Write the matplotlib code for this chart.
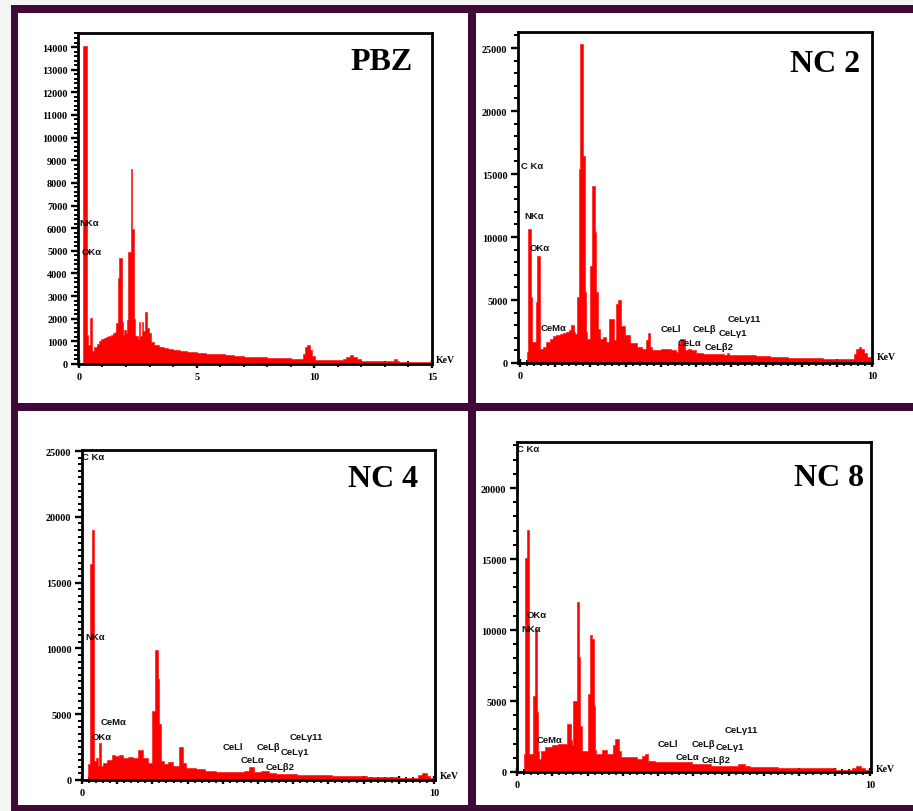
import matplotlib
matplotlib.use('Agg')
import matplotlib.pyplot as plt
from matplotlib.patches import Rectangle
from matplotlib.ticker import MultipleLocator, FixedLocator, FuncFormatter

plt.rcParams['font.family'] = ['Liberation Serif', 'DejaVu Serif']
plt.rcParams['font.weight'] = 'bold'

W, H = 913, 812

# ---------------- data (step spectra: segment start energy [keV], counts) ----------------
pbz_energy = [0.00, 0.17, 0.33, 0.37, 0.47, 0.57, 0.66, 0.75, 0.85, 0.95,
              1.05, 1.15, 1.25, 1.35, 1.45, 1.52, 1.58, 1.64, 1.70, 1.84,
              1.88, 1.93, 2.00, 2.04, 2.10, 2.22, 2.27, 2.33, 2.40, 2.50,
              2.56, 2.60, 2.66, 2.72, 2.79, 2.90, 2.96, 3.05, 3.20, 3.40,
              3.60, 3.80, 4.00, 4.30, 4.60, 5.00, 5.40, 5.80, 6.20, 6.60,
              7.00, 7.50, 8.00, 8.50, 9.00, 9.30, 9.50, 9.60, 9.70, 9.80,
              9.90, 10.05, 10.60, 11.20, 11.35, 11.50, 11.65, 11.80, 12.00, 13.40,
              13.50, 13.60, 15.00]
pbz_counts = [0, 14050, 1300, 850, 2030, 560, 750, 900, 1000, 1100,
              1150, 1200, 1250, 1300, 1350, 1420, 1800, 3800, 4680, 1850,
              1300, 1500, 1350, 1950, 4950, 8600, 5950, 2000, 1250, 1100,
              1850, 1250, 1850, 1450, 2300, 1600, 1350, 950, 850, 750,
              700, 650, 600, 560, 520, 480, 450, 420, 390, 360,
              330, 310, 280, 260, 240, 200, 450, 750, 840, 600,
              350, 180, 190, 210, 300, 400, 330, 200, 120, 200,
              120, 100, 100]

nc2_energy = [0.00, 0.19, 0.23, 0.30, 0.34, 0.45, 0.49, 0.57, 0.64, 0.74,
              0.84, 0.93, 1.03, 1.12, 1.22, 1.31, 1.40, 1.45, 1.54, 1.57,
              1.61, 1.67, 1.71, 1.78, 1.84, 1.87, 1.91, 1.98, 2.04, 2.13,
              2.17, 2.20, 2.26, 2.35, 2.43, 2.54, 2.66, 2.73, 2.78, 2.88,
              2.99, 3.13, 3.32, 3.45, 3.58, 3.63, 3.70, 3.76, 4.00, 4.30,
              4.42, 4.48, 4.55, 4.68, 4.78, 4.87, 5.00, 5.20, 5.50, 5.80,
              5.88, 5.95, 6.30, 6.70, 7.10, 7.60, 8.10, 8.60, 9.00, 9.40,
              9.48, 9.55, 9.62, 9.70, 9.78, 9.86, 10.0]
nc2_counts = [0, 870, 10600, 5200, 1660, 4860, 8500, 1100, 1300, 1640,
              1900, 2140, 2250, 2300, 2350, 2440, 2600, 3000, 2440, 2300,
              5200, 15400, 25300, 16450, 5600, 2440, 1900, 7700, 14070, 10400,
              5600, 2700, 1900, 2100, 1700, 3490, 1800, 4700, 5000, 2960,
              2200, 1600, 1300, 1150, 1800, 2400, 1300, 1050, 1100, 1050,
              900, 1500, 1900, 1000, 1100, 1000, 800, 720, 700, 640,
              800, 620, 600, 560, 500, 430, 400, 350, 340, 320,
              700, 1100, 1260, 1150, 800, 450, 300]

nc4_energy = [0.00, 0.18, 0.23, 0.27, 0.34, 0.39, 0.46, 0.49, 0.55, 0.60,
              0.70, 0.84, 0.95, 1.05, 1.17, 1.30, 1.45, 1.60, 1.74, 1.88,
              2.00, 2.08, 2.17, 2.20, 2.24, 2.34, 2.44, 2.58, 2.75, 2.86,
              2.95, 3.23, 3.50, 3.80, 4.20, 4.60, 4.75, 4.90, 5.10, 5.30,
              5.50, 6.10, 7.10, 8.10, 9.00, 9.55, 9.65, 9.80, 9.90, 10.0]
nc4_counts = [0, 1200, 16400, 19000, 1470, 1700, 1050, 2800, 1050, 1300,
              1500, 1900, 1800, 1900, 1700, 1750, 1650, 2280, 1700, 1300,
              5270, 9880, 7680, 4250, 1470, 1200, 1400, 1100, 2500, 1300,
              900, 800, 700, 620, 580, 700, 960, 600, 710, 550,
              450, 380, 300, 230, 180, 350, 530, 300, 130, 130]

nc8_energy = [0.00, 0.20, 0.24, 0.27, 0.35, 0.46, 0.50, 0.56, 0.60, 0.63,
              0.68, 0.80, 1.00, 1.15, 1.30, 1.42, 1.53, 1.57, 1.60, 1.69,
              1.76, 1.79, 1.83, 1.94, 2.00, 2.06, 2.13, 2.17, 2.20, 2.25,
              2.40, 2.55, 2.72, 2.77, 2.89, 2.95, 3.40, 3.55, 3.62, 3.72,
              3.90, 4.70, 4.95, 5.50, 6.25, 6.45, 6.60, 7.40, 8.80, 9.00,
              9.10, 9.50, 9.60, 9.75, 9.85, 10.03]
nc8_counts = [0, 1270, 15100, 17060, 1270, 5370, 10070, 4220, 1500, 915,
              1500, 1760, 1900, 2000, 1950, 3380, 2220, 1900, 5020, 11970,
              8100, 3260, 1500, 1450, 5490, 9650, 9370, 4670, 1550, 1270,
              1550, 1270, 1900, 2320, 1500, 1040, 900, 1100, 1270, 800,
              700, 720, 550, 450, 560, 420, 350, 280, 250, 120,
              170, 300, 450, 300, 150, 150]

# peak labels
pbz_label_text = ["NKα", "OKα"]
pbz_label_x = [0.02, 0.13]
pbz_label_y = [6230, 4990]

nc2_label_text = ["C Kα", "NKα", "OKα", "CeMα", "CeLl", "CeLα", "CeLβ", "CeLβ2", "CeLγ1", "CeLγ11"]
nc2_label_x = [0.03, 0.11, 0.26, 0.57, 4.00, 4.49, 4.91, 5.23, 5.63, 5.91]
nc2_label_y = [15710, 11670, 9130, 2780, 2700, 1590, 2700, 1270, 2460, 3570]

nc4_label_text = ["C Kα", "NKα", "CeMα", "OKα", "CeLl", "CeLα", "CeLβ", "CeLβ2", "CeLγ1", "CeLγ11"]
nc4_label_x = [0.00, 0.11, 0.54, 0.28, 4.00, 4.52, 4.97, 5.23, 5.65, 5.91]
nc4_label_y = [24620, 10870, 4480, 3340, 2580, 1520, 2580, 1060, 2130, 3270]

nc8_label_text = ["C Kα", "OKα", "NKα", "CeMα", "CeLl", "CeLα", "CeLβ", "CeLβ2", "CeLγ1", "CeLγ11"]
nc8_label_x = [0.00, 0.28, 0.11, 0.57, 3.99, 4.50, 4.96, 5.24, 5.64, 5.89]
nc8_label_y = [22750, 11060, 10140, 2320, 2040, 1060, 2040, 850, 1830, 2960]

titles = ["PBZ", "NC 2", "NC 4", "NC 8"]
unit_label = "KeV"

# ---------------- figure & frame ----------------
fig = plt.figure(figsize=(W / 100, H / 100), dpi=100, facecolor='#f5f5f5')
PURPLE = '#3f0a38'


def frect(x0, y0, x1, y1, color, z=0):
    fig.add_artist(Rectangle((x0 / W, 1 - y1 / H), (x1 - x0) / W, (y1 - y0) / H,
                             transform=fig.transFigure, facecolor=color,
                             edgecolor='none', zorder=z))


frect(11, 6, 913, 812, 'white', z=-2)
frect(11, 6, 913, 14, PURPLE, z=-1)
frect(11, 6, 18, 812, PURPLE, z=-1)
frect(468, 6, 476, 812, PURPLE, z=-1)
frect(11, 404, 913, 412, PURPLE, z=-1)
frect(11, 806, 913, 812, PURPLE, z=-1)


def make_axes(px_box):
    x0, y0, x1, y1 = px_box
    return fig.add_axes([x0 / W, 1 - y1 / H, (x1 - x0) / W, (y1 - y0) / H])


def setup(ax, energy, counts, xlim, ylim, xmaj, xmin, ymaj, ymin, xlab_keep,
          title, title_pos, ltxt, lx, ly, kev_pos):
    assert len(energy) == len(counts)
    ax.fill_between(energy, counts, 0, step='post', color='#ff0000',
                    edgecolor='#ff0000', linewidth=0.4, zorder=2)
    ax.set_xlim(*xlim)
    ax.set_ylim(*ylim)
    for s in ax.spines.values():
        s.set_linewidth(2.0)
        s.set_color('black')
        s.set_zorder(4)
    ax.xaxis.set_major_locator(xmaj)
    ax.xaxis.set_minor_locator(MultipleLocator(xmin))
    ax.xaxis.set_major_formatter(FuncFormatter(
        lambda v, p: ('%g' % v) if any(abs(v - k) < 1e-6 for k in xlab_keep) else ''))
    ax.yaxis.set_major_locator(MultipleLocator(ymaj))
    ax.yaxis.set_minor_locator(MultipleLocator(ymin))
    ax.yaxis.set_major_formatter(FuncFormatter(lambda v, p: '%d' % v))
    ax.tick_params(axis='y', which='major', direction='out', length=5, width=1.7,
                   pad=2.5, labelsize=7.3)
    ax.tick_params(axis='y', which='minor', direction='out', length=3, width=1.4)
    ax.tick_params(axis='x', which='major', direction='inout', length=6, width=1.7,
                   pad=3.0, labelsize=7.3)
    ax.tick_params(axis='x', which='minor', direction='inout', length=4, width=1.3)
    for lab in ax.get_xticklabels() + ax.get_yticklabels():
        lab.set_fontweight('bold')
    ax.text(title_pos[0], title_pos[1], title, transform=ax.transAxes, ha='right',
            va='baseline', fontsize=23, fontweight='bold', family='Liberation Serif',
            zorder=5)
    ax.text(kev_pos[0], kev_pos[1], unit_label, transform=ax.transAxes, ha='left',
            va='center', fontsize=7, fontweight='bold', family='Liberation Serif',
            clip_on=False)
    for t, x, y in zip(ltxt, lx, ly):
        ax.text(x, y, t, ha='left', va='center', fontsize=6.8, fontweight='bold',
                family=['Liberation Sans', 'DejaVu Sans'], color='#111111',
                zorder=3, clip_on=False)


ax1 = make_axes((78, 34, 432, 365))
setup(ax1, pbz_energy, pbz_counts, (-0.04, 15), (0, 14620), MultipleLocator(5), 1,
      1000, 200, [0, 5, 10, 15], titles[0], (0.946, 0.891),
      pbz_label_text, pbz_label_x, pbz_label_y, (1.012, 0.015))

ax2 = make_axes((518, 33, 872, 364))
setup(ax2, nc2_energy, nc2_counts, (-0.06, 10), (0, 26270), MultipleLocator(1), 0.2,
      5000, 1000, [0, 10], titles[1], (0.966, 0.882),
      nc2_label_text, nc2_label_x, nc2_label_y, (1.013, 0.021))

ax3 = make_axes((82, 451, 435, 781))
setup(ax3, nc4_energy, nc4_counts, (0, 10.03), (0, 25080), MultipleLocator(1), 0.2,
      5000, 500, [0, 10], titles[2], (0.952, 0.891),
      nc4_label_text, nc4_label_x, nc4_label_y, (1.014, 0.015))

ax4 = make_axes((517, 443, 871, 773))
setup(ax4, nc8_energy, nc8_counts, (0, 10.03), (0, 23240), MultipleLocator(1), 0.2,
      5000, 1000, [0, 10], titles[3], (0.980, 0.870),
      nc8_label_text, nc8_label_x, nc8_label_y, (1.014, 0.012))

fig.savefig('out.png', dpi=100, facecolor=fig.get_facecolor())
